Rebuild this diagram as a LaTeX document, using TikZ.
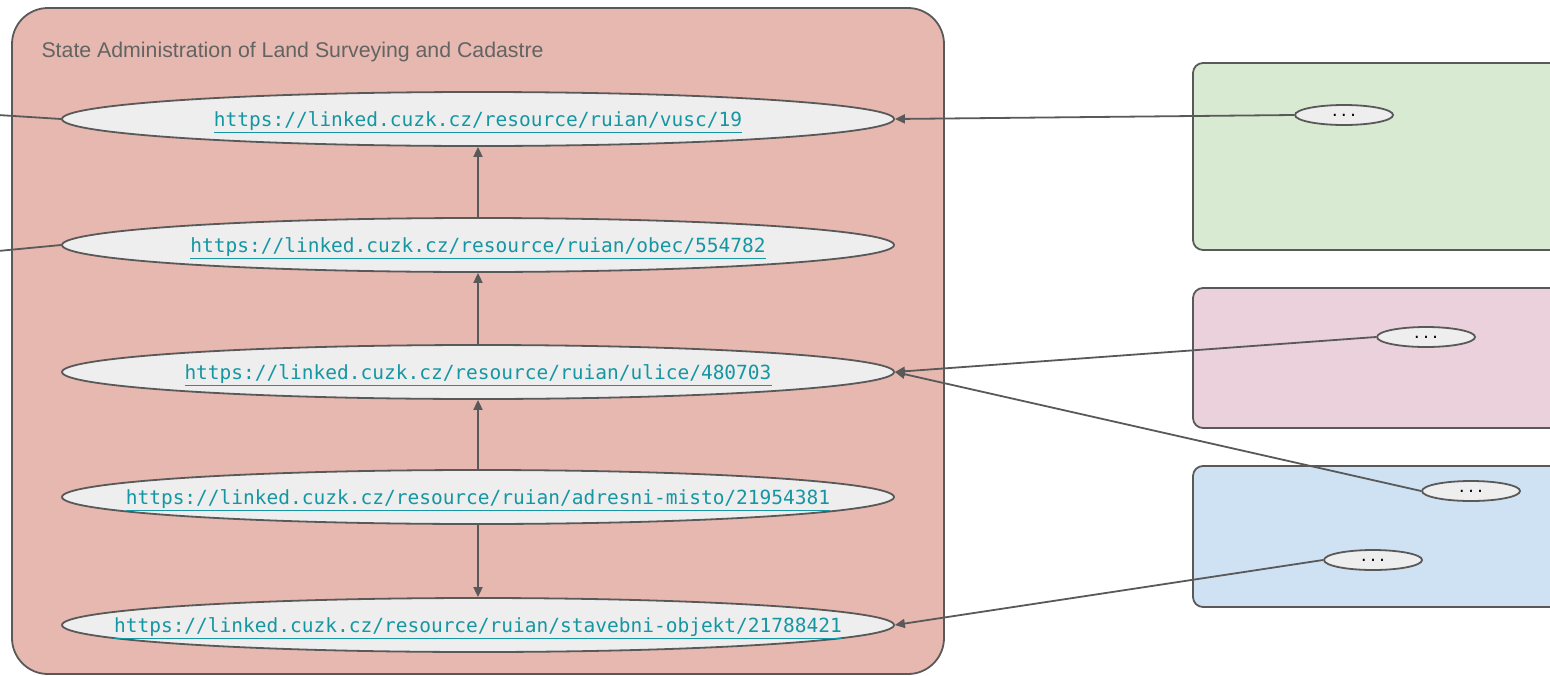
\documentclass[tikz,border=0pt]{standalone}
\usepackage{fontspec}
\setmainfont{Liberation Sans}
\newfontfamily\urlmono{DejaVu Sans Mono}
\usetikzlibrary{shapes.geometric,arrows.meta}
\definecolor{edgegray}{HTML}{595959}
\definecolor{titlegray}{HTML}{636363}
\definecolor{orgfill}{HTML}{E6B8AF}
\definecolor{greenfill}{HTML}{D9EAD3}
\definecolor{pinkfill}{HTML}{EAD1DC}
\definecolor{bluefill}{HTML}{CFE2F3}
\definecolor{nodefill}{HTML}{EEEEEE}
\definecolor{linkcol}{HTML}{1497A3}
\tikzset{
  orgbox/.style={draw=edgegray, line width=1.8pt, rounded corners=36pt, fill=orgfill},
  sidebox/.style={draw=edgegray, line width=1.8pt, rounded corners=10pt},
  bignode/.style={ellipse, draw=edgegray, line width=1.8pt, fill=nodefill, minimum width=832pt, minimum height=54pt, inner sep=0pt},
  smallnode/.style={ellipse, draw=edgegray, line width=1.8pt, fill=nodefill, minimum width=98pt, minimum height=20pt, inner sep=0pt,
     font=\urlmono\fontsize{15pt}{15pt}\selectfont, text=black},
  urlstyle/.style={font=\urlmono\fontsize{19.5pt}{20pt}\selectfont, text=linkcol, yshift=-3pt},
  conn/.style={draw=edgegray, line width=1.8pt},
  arr/.style={conn, -{Triangle[length=10pt,width=9pt]}},
}
\newcommand{\ulink}[1]{\underline{#1}}
\begin{document}
\begin{tikzpicture}[x=1pt,y=-1pt]
\useasboundingbox (0,0) rectangle (1550,675);
% containers
\path[orgbox] (12,8) rectangle (944,674);
\node[anchor=west, text=titlegray, font=\fontsize{21.3pt}{24pt}\selectfont] (title) at (38,52) {State Administration of Land Surveying and Cadastre};
\path[sidebox, fill=greenfill] (1193,63) rectangle (1565,250);
\path[sidebox, fill=pinkfill] (1193,288) rectangle (1565,428);
\path[sidebox, fill=bluefill] (1193,466) rectangle (1565,607);
% big nodes
\node[bignode, label={[urlstyle]center:\ulink{https://linked.cuzk.cz/resource/ruian/vusc/19}}] (e1) at (478,119) {};
\node[bignode, label={[urlstyle]center:\ulink{https://linked.cuzk.cz/resource/ruian/obec/554782}}] (e2) at (478,245) {};
\node[bignode, label={[urlstyle]center:\ulink{https://linked.cuzk.cz/resource/ruian/ulice/480703}}] (e3) at (478,372) {};
\node[bignode, label={[urlstyle]center:\ulink{https://linked.cuzk.cz/resource/ruian/adresni-misto/21954381}}] (e4) at (478,497) {};
\node[bignode, label={[urlstyle]center:\ulink{https://linked.cuzk.cz/resource/ruian/stavebni-objekt/21788421}}] (e5) at (478,625) {};
% small nodes
\node[smallnode] (g1) at (1344,115) {...};
\node[smallnode] (p1) at (1426,337) {...};
\node[smallnode] (b1) at (1471,491) {...};
\node[smallnode] (b2) at (1373,560) {...};
% free ends on the left
\coordinate (l1) at (-2,115);
\coordinate (l2) at (-2,251);
% connectors
\draw[conn] (l1) -- (e1.west);
\draw[conn] (l2) -- (e2.west);
\draw[arr] (e2.north) -- (e1.south);
\draw[arr] (e3.north) -- (e2.south);
\draw[arr] (e4.north) -- (e3.south);
\draw[arr] (e4.south) -- (e5.north);
\draw[arr] (g1.west) -- (e1.east);
\draw[arr] (p1.west) -- (e3.east);
\draw[arr] (b1.west) -- (e3.east);
\draw[arr] (b2.west) -- (e5.east);
\end{tikzpicture}
\end{document}
